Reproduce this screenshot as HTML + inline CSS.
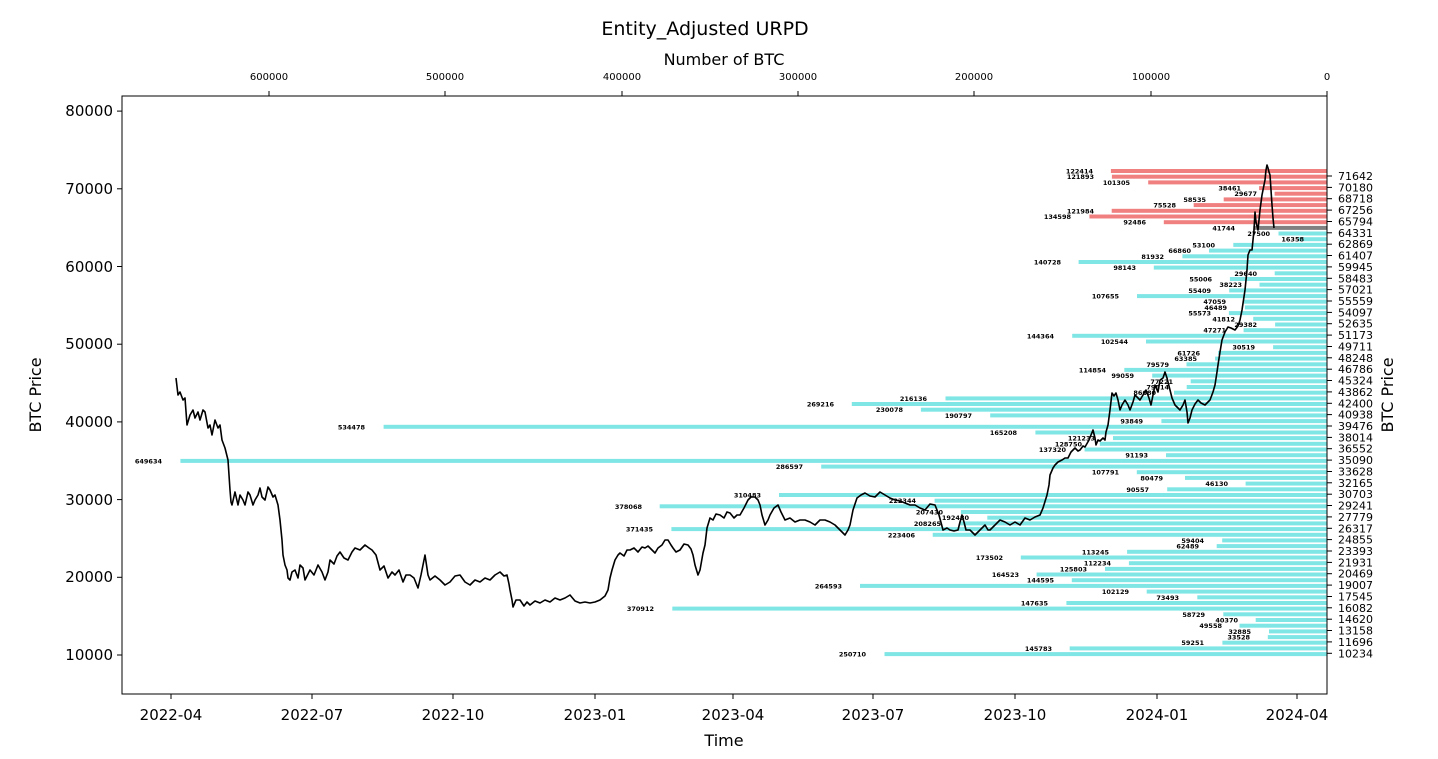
<!DOCTYPE html>
<html><head><meta charset="utf-8"><style>
html,body{margin:0;padding:0;background:#fff;}
svg{display:block;font-family:"DejaVu Sans","Liberation Sans",sans-serif;}
.l{font-size:6.5px;font-weight:bold;text-anchor:end;fill:#000;}
.rt{font-size:11px;}
.tk{font-size:15px;}
.tt{font-size:10px;text-anchor:middle;}
</style></head><body>
<svg width="1438" height="759" viewBox="0 0 1438 759" xmlns="http://www.w3.org/2000/svg">
<text x="705" y="35" font-size="19" text-anchor="middle">Entity_Adjusted URPD</text>
<text x="724" y="65" font-size="16" text-anchor="middle">Number of BTC</text>
<g fill="#80e5e5">
<rect x="1253.3" y="225.9" width="73.7" height="4" fill="#808080"/>
<g fill="#f08080">
<rect x="1110.9" y="169" width="216.1" height="4"/><rect x="1111.9" y="174.7" width="215.1" height="4"/><rect x="1148.2" y="180.4" width="178.8" height="4"/><rect x="1259.1" y="186.1" width="67.9" height="4"/><rect x="1274.6" y="191.7" width="52.4" height="4"/><rect x="1223.7" y="197.4" width="103.3" height="4"/><rect x="1193.7" y="203.1" width="133.3" height="4"/><rect x="1111.7" y="208.8" width="215.3" height="4"/><rect x="1089.4" y="214.5" width="237.6" height="4"/><rect x="1163.8" y="220.2" width="163.2" height="4"/>
</g>
<rect x="1278.5" y="231.5" width="48.5" height="4"/><rect x="1298.1" y="237.2" width="28.9" height="4"/><rect x="1233.3" y="242.9" width="93.7" height="4"/><rect x="1209" y="248.6" width="118" height="4"/><rect x="1182.4" y="254.3" width="144.6" height="4"/><rect x="1078.6" y="260" width="248.4" height="4"/><rect x="1153.8" y="265.6" width="173.2" height="4"/><rect x="1274.7" y="271.3" width="52.3" height="4"/><rect x="1229.9" y="277" width="97.1" height="4"/><rect x="1259.5" y="282.7" width="67.5" height="4"/><rect x="1229.2" y="288.4" width="97.8" height="4"/><rect x="1137" y="294.1" width="190" height="4"/><rect x="1243.9" y="299.7" width="83.1" height="4"/><rect x="1244.9" y="305.4" width="82.1" height="4"/><rect x="1228.9" y="311.1" width="98.1" height="4"/><rect x="1253.2" y="316.8" width="73.8" height="4"/><rect x="1275.1" y="322.5" width="51.9" height="4"/><rect x="1243.6" y="328.2" width="83.4" height="4"/><rect x="1072.2" y="333.8" width="254.8" height="4"/><rect x="1146" y="339.5" width="181" height="4"/><rect x="1273.1" y="345.2" width="53.9" height="4"/><rect x="1218.1" y="350.9" width="108.9" height="4"/><rect x="1215.1" y="356.6" width="111.9" height="4"/><rect x="1186.5" y="362.3" width="140.5" height="4"/><rect x="1124.3" y="367.9" width="202.7" height="4"/><rect x="1152.2" y="373.6" width="174.8" height="4"/><rect x="1190.7" y="379.3" width="136.3" height="4"/><rect x="1186.7" y="385" width="140.3" height="4"/><rect x="1174" y="390.7" width="153" height="4"/><rect x="945.5" y="396.4" width="381.5" height="4"/><rect x="851.8" y="402" width="475.2" height="4"/><rect x="920.9" y="407.7" width="406.1" height="4"/><rect x="990.2" y="413.4" width="336.8" height="4"/><rect x="1161.4" y="419.1" width="165.6" height="4"/><rect x="383.6" y="424.8" width="943.4" height="4"/><rect x="1035.4" y="430.5" width="291.6" height="4"/><rect x="1113" y="436.1" width="214" height="4"/><rect x="1099.8" y="441.8" width="227.2" height="4"/><rect x="1084.6" y="447.5" width="242.4" height="4"/><rect x="1166" y="453.2" width="161" height="4"/><rect x="180.4" y="458.9" width="1146.6" height="4"/><rect x="821.2" y="464.6" width="505.8" height="4"/><rect x="1136.8" y="470.2" width="190.2" height="4"/><rect x="1185" y="475.9" width="142" height="4"/><rect x="1245.6" y="481.6" width="81.4" height="4"/><rect x="1167.2" y="487.3" width="159.8" height="4"/><rect x="779" y="493" width="548" height="4"/><rect x="934.6" y="498.7" width="392.4" height="4"/><rect x="659.7" y="504.3" width="667.3" height="4"/><rect x="960.9" y="510" width="366.1" height="4"/><rect x="987.3" y="515.7" width="339.7" height="4"/><rect x="959.4" y="521.4" width="367.6" height="4"/><rect x="671.4" y="527.1" width="655.6" height="4"/><rect x="932.7" y="532.8" width="394.3" height="4"/><rect x="1222.2" y="538.4" width="104.8" height="4"/><rect x="1216.7" y="544.1" width="110.3" height="4"/><rect x="1127.1" y="549.8" width="199.9" height="4"/><rect x="1020.8" y="555.5" width="306.2" height="4"/><rect x="1128.9" y="561.2" width="198.1" height="4"/><rect x="1105" y="566.9" width="222" height="4"/><rect x="1036.6" y="572.5" width="290.4" height="4"/><rect x="1071.8" y="578.2" width="255.2" height="4"/><rect x="860" y="583.9" width="467" height="4"/><rect x="1146.7" y="589.6" width="180.3" height="4"/><rect x="1197.3" y="595.3" width="129.7" height="4"/><rect x="1066.4" y="601" width="260.6" height="4"/><rect x="672.3" y="606.6" width="654.7" height="4"/><rect x="1223.3" y="612.3" width="103.7" height="4"/><rect x="1255.7" y="618" width="71.3" height="4"/><rect x="1239.5" y="623.7" width="87.5" height="4"/><rect x="1269" y="629.4" width="58" height="4"/><rect x="1267.8" y="635.1" width="59.2" height="4"/><rect x="1222.4" y="640.7" width="104.6" height="4"/><rect x="1069.7" y="646.4" width="257.3" height="4"/><rect x="884.5" y="652.1" width="442.5" height="4"/>
</g>
<g class="l">
<text x="1093" y="173.5">122414</text><text x="1094" y="179.2">121893</text><text x="1130" y="184.9">101305</text><text x="1241" y="190.6">38461</text><text x="1257" y="196.2">29677</text><text x="1206" y="201.9">58535</text><text x="1176" y="207.6">75528</text><text x="1094" y="213.3">121984</text><text x="1071" y="219">134598</text><text x="1146" y="224.7">92486</text><text x="1235" y="230.4">41744</text><text x="1270" y="236">27500</text><text x="1304" y="241.7">16358</text><text x="1215" y="247.4">53100</text><text x="1191" y="253.1">66860</text><text x="1164" y="258.8">81932</text><text x="1061" y="264.5">140728</text><text x="1136" y="270.1">98143</text><text x="1257" y="275.8">29640</text><text x="1212" y="281.5">55006</text><text x="1242" y="287.2">38223</text><text x="1211" y="292.9">55409</text><text x="1119" y="298.6">107655</text><text x="1226" y="304.2">47059</text><text x="1227" y="309.9">46489</text><text x="1211" y="315.6">55573</text><text x="1235" y="321.3">41812</text><text x="1257" y="327">29382</text><text x="1226" y="332.7">47271</text><text x="1054" y="338.3">144364</text><text x="1128" y="344">102544</text><text x="1255" y="349.7">30519</text><text x="1200" y="355.4">61726</text><text x="1197" y="361.1">63385</text><text x="1169" y="366.8">79579</text><text x="1106" y="372.4">114854</text><text x="1134" y="378.1">99059</text><text x="1173" y="383.8">77221</text><text x="1169" y="389.5">79514</text><text x="1156" y="395.2">86680</text><text x="927" y="400.9">216136</text><text x="834" y="406.5">269216</text><text x="903" y="412.2">230078</text><text x="972" y="417.9">190797</text><text x="1143" y="423.6">93849</text><text x="365" y="429.3">534478</text><text x="1017" y="435">165208</text><text x="1095" y="440.6">121233</text><text x="1082" y="446.3">128750</text><text x="1066" y="452">137320</text><text x="1148" y="457.7">91193</text><text x="162" y="463.4">649634</text><text x="803" y="469.1">286597</text><text x="1119" y="474.7">107791</text><text x="1163" y="480.4">80479</text><text x="1228" y="486.1">46130</text><text x="1149" y="491.8">90557</text><text x="761" y="497.5">310483</text><text x="916" y="503.2">222344</text><text x="642" y="508.8">378068</text><text x="943" y="514.5">207430</text><text x="969" y="520.2">192480</text><text x="941" y="525.9">208265</text><text x="653" y="531.6">371435</text><text x="915" y="537.3">223406</text><text x="1204" y="542.9">59404</text><text x="1199" y="548.6">62489</text><text x="1109" y="554.3">113245</text><text x="1003" y="560">173502</text><text x="1111" y="565.7">112234</text><text x="1087" y="571.4">125803</text><text x="1019" y="577">164523</text><text x="1054" y="582.7">144595</text><text x="842" y="588.4">264593</text><text x="1129" y="594.1">102129</text><text x="1179" y="599.8">73493</text><text x="1048" y="605.5">147635</text><text x="654" y="611.1">370912</text><text x="1205" y="616.8">58729</text><text x="1238" y="622.5">40370</text><text x="1222" y="628.2">49558</text><text x="1251" y="633.9">32885</text><text x="1250" y="639.6">33528</text><text x="1204" y="645.2">59251</text><text x="1052" y="650.9">145783</text><text x="866" y="656.6">250710</text>
</g>
<polyline fill="none" stroke="#000" stroke-width="1.6" stroke-linejoin="round" points="176,378 178,395 180,392 183,400 185,398 187,425 190,415 193,410 195,418 198,412 200,420 203,410 205,412 208,428 210,425 212,435 215,420 218,428 220,425 222,440 225,448 228,460 229,475 230,490 231,502 232,505 235,492 238,505 240,495 243,500 245,505 248,492 250,495 253,505 255,500 258,495 260,488 262,497 265,500 268,487 270,490 273,497 275,495 278,505 280,520 282,540 283,555 285,565 287,570 288,578 290,580 292,572 295,570 298,578 300,565 303,568 305,580 308,574 310,570 314,575 318,565 322,572 325,580 328,572 330,560 334,564 337,556 340,552 344,558 348,560 352,552 355,548 360,550 365,545 369,548 372,550 376,555 380,570 384,566 388,578 392,572 395,575 399,570 403,582 406,575 410,575 414,578 418,588 421,575 425,555 428,575 430,580 435,576 440,580 445,585 450,582 455,576 460,575 465,582 470,585 475,580 480,582 485,578 490,580 495,575 500,572 504,576 507,575 509,584 510,590 512,600 513,607 516,600 520,600 524,606 527,602 530,605 535,601 540,603 545,600 550,602 555,598 560,600 565,598 570,595 575,601 580,603 585,602 590,603 595,602 600,600 605,596 608,590 610,578 612,570 615,560 618,555 620,553 624,556 627,550 630,550 634,548 638,552 642,547 645,548 648,546 652,550 655,553 658,548 662,545 665,540 668,540 671,545 673,548 676,552 680,550 684,544 688,545 691,549 693,555 695,565 698,575 700,570 703,553 705,545 707,528 710,518 713,520 716,514 720,515 724,518 727,512 730,513 734,518 737,515 740,515 744,508 748,500 751,497 755,497 758,500 760,505 762,515 765,525 768,520 770,515 774,508 778,505 781,512 785,520 790,518 795,522 800,520 805,520 810,522 815,525 820,520 825,520 830,522 835,525 840,530 845,535 848,530 850,525 853,510 857,498 861,495 865,493 870,496 875,497 880,492 885,495 890,498 895,500 900,501 905,503 910,505 915,505 920,508 925,510 930,504 935,505 939,515 943,530 947,528 950,530 954,531 958,530 960,522 962,515 964,522 966,530 970,530 975,535 980,530 985,525 988,530 990,530 995,525 1000,520 1005,522 1010,525 1015,522 1020,525 1025,518 1030,520 1035,517 1040,515 1043,508 1047,495 1049,485 1050,475 1053,468 1055,465 1058,462 1062,460 1065,458 1068,458 1071,452 1075,448 1078,451 1080,450 1083,446 1085,447 1089,440 1093,430 1095,438 1096,445 1098,440 1100,441 1103,438 1105,440 1106,432 1108,425 1110,410 1112,393 1114,396 1116,393 1118,400 1120,410 1122,405 1125,400 1128,405 1130,410 1133,402 1135,395 1138,398 1140,400 1143,395 1146,390 1149,398 1151,405 1153,395 1155,385 1158,392 1160,380 1163,378 1165,372 1167,378 1170,390 1172,398 1175,405 1178,408 1180,410 1183,405 1185,400 1187,412 1188,423 1190,418 1192,410 1195,404 1198,400 1201,403 1205,405 1208,402 1210,400 1213,392 1215,385 1217,372 1218,365 1220,352 1222,340 1225,332 1228,327 1231,328 1235,330 1238,326 1240,320 1242,310 1245,290 1247,270 1248,255 1250,250 1252,250 1253,240 1254,230 1255,212 1256,222 1258,230 1260,210 1262,195 1264,185 1265,180 1266,170 1267,165 1268,168 1269,172 1270,175 1271,190 1272,205 1273,218 1274,228"/>
<rect x="122" y="96" width="1205" height="598" fill="none" stroke="#000" stroke-width="1"/>
<g stroke="#000" stroke-width="1">
<line x1="122" y1="655" x2="117" y2="655"/><line x1="122" y1="577.3" x2="117" y2="577.3"/><line x1="122" y1="499.6" x2="117" y2="499.6"/><line x1="122" y1="421.9" x2="117" y2="421.9"/><line x1="122" y1="344.2" x2="117" y2="344.2"/><line x1="122" y1="266.5" x2="117" y2="266.5"/><line x1="122" y1="188.8" x2="117" y2="188.8"/><line x1="122" y1="111.1" x2="117" y2="111.1"/>
<line x1="171" y1="694" x2="171" y2="699"/><line x1="312" y1="694" x2="312" y2="699"/><line x1="453" y1="694" x2="453" y2="699"/><line x1="595" y1="694" x2="595" y2="699"/><line x1="733" y1="694" x2="733" y2="699"/><line x1="873" y1="694" x2="873" y2="699"/><line x1="1015" y1="694" x2="1015" y2="699"/><line x1="1157" y1="694" x2="1157" y2="699"/><line x1="1297" y1="694" x2="1297" y2="699"/>
<line x1="1327" y1="96" x2="1327" y2="91"/><line x1="1151" y1="96" x2="1151" y2="91"/><line x1="974" y1="96" x2="974" y2="91"/><line x1="798" y1="96" x2="798" y2="91"/><line x1="622" y1="96" x2="622" y2="91"/><line x1="445" y1="96" x2="445" y2="91"/><line x1="269" y1="96" x2="269" y2="91"/>
</g>
<g class="tt"><text x="1327" y="80">0</text><text x="1151" y="80">100000</text><text x="974" y="80">200000</text><text x="798" y="80">300000</text><text x="622" y="80">400000</text><text x="445" y="80">500000</text><text x="269" y="80">600000</text></g>
<g class="tk" text-anchor="end"><text x="113" y="660">10000</text><text x="113" y="582">20000</text><text x="113" y="505">30000</text><text x="113" y="427">40000</text><text x="113" y="349">50000</text><text x="113" y="272">60000</text><text x="113" y="194">70000</text><text x="113" y="116">80000</text></g>
<g class="tk" text-anchor="middle"><text x="171" y="720">2022-04</text><text x="312" y="720">2022-07</text><text x="453" y="720">2022-10</text><text x="595" y="720">2023-01</text><text x="733" y="720">2023-04</text><text x="873" y="720">2023-07</text><text x="1015" y="720">2023-10</text><text x="1157" y="720">2024-01</text><text x="1297" y="720">2024-04</text></g>
<text x="724" y="746" font-size="16" text-anchor="middle">Time</text>
<text transform="translate(41,395) rotate(-90)" font-size="16" text-anchor="middle">BTC Price</text>
<text transform="translate(1393,395) rotate(-90)" font-size="16" text-anchor="middle">BTC Price</text>
<g stroke="#000"><line x1="1327" y1="176.0" x2="1332" y2="176.0"/><line x1="1327" y1="187.4" x2="1332" y2="187.4"/><line x1="1327" y1="198.7" x2="1332" y2="198.7"/><line x1="1327" y1="210.1" x2="1332" y2="210.1"/><line x1="1327" y1="221.5" x2="1332" y2="221.5"/><line x1="1327" y1="232.8" x2="1332" y2="232.8"/><line x1="1327" y1="244.2" x2="1332" y2="244.2"/><line x1="1327" y1="255.5" x2="1332" y2="255.5"/><line x1="1327" y1="266.9" x2="1332" y2="266.9"/><line x1="1327" y1="278.3" x2="1332" y2="278.3"/><line x1="1327" y1="289.6" x2="1332" y2="289.6"/><line x1="1327" y1="301.0" x2="1332" y2="301.0"/><line x1="1327" y1="312.4" x2="1332" y2="312.4"/><line x1="1327" y1="323.7" x2="1332" y2="323.7"/><line x1="1327" y1="335.1" x2="1332" y2="335.1"/><line x1="1327" y1="346.5" x2="1332" y2="346.5"/><line x1="1327" y1="357.8" x2="1332" y2="357.8"/><line x1="1327" y1="369.2" x2="1332" y2="369.2"/><line x1="1327" y1="380.5" x2="1332" y2="380.5"/><line x1="1327" y1="391.9" x2="1332" y2="391.9"/><line x1="1327" y1="403.3" x2="1332" y2="403.3"/><line x1="1327" y1="414.6" x2="1332" y2="414.6"/><line x1="1327" y1="426.0" x2="1332" y2="426.0"/><line x1="1327" y1="437.4" x2="1332" y2="437.4"/><line x1="1327" y1="448.7" x2="1332" y2="448.7"/><line x1="1327" y1="460.1" x2="1332" y2="460.1"/><line x1="1327" y1="471.5" x2="1332" y2="471.5"/><line x1="1327" y1="482.8" x2="1332" y2="482.8"/><line x1="1327" y1="494.2" x2="1332" y2="494.2"/><line x1="1327" y1="505.5" x2="1332" y2="505.5"/><line x1="1327" y1="516.9" x2="1332" y2="516.9"/><line x1="1327" y1="528.3" x2="1332" y2="528.3"/><line x1="1327" y1="539.6" x2="1332" y2="539.6"/><line x1="1327" y1="551.0" x2="1332" y2="551.0"/><line x1="1327" y1="562.4" x2="1332" y2="562.4"/><line x1="1327" y1="573.7" x2="1332" y2="573.7"/><line x1="1327" y1="585.1" x2="1332" y2="585.1"/><line x1="1327" y1="596.5" x2="1332" y2="596.5"/><line x1="1327" y1="607.8" x2="1332" y2="607.8"/><line x1="1327" y1="619.2" x2="1332" y2="619.2"/><line x1="1327" y1="630.5" x2="1332" y2="630.5"/><line x1="1327" y1="641.9" x2="1332" y2="641.9"/><line x1="1327" y1="653.3" x2="1332" y2="653.3"/></g>
<g class="rt"><text x="1338" y="180">71642</text><text x="1338" y="191.4">70180</text><text x="1338" y="202.7">68718</text><text x="1338" y="214.1">67256</text><text x="1338" y="225.5">65794</text><text x="1338" y="236.8">64331</text><text x="1338" y="248.2">62869</text><text x="1338" y="259.5">61407</text><text x="1338" y="270.9">59945</text><text x="1338" y="282.3">58483</text><text x="1338" y="293.6">57021</text><text x="1338" y="305">55559</text><text x="1338" y="316.4">54097</text><text x="1338" y="327.7">52635</text><text x="1338" y="339.1">51173</text><text x="1338" y="350.5">49711</text><text x="1338" y="361.8">48248</text><text x="1338" y="373.2">46786</text><text x="1338" y="384.5">45324</text><text x="1338" y="395.9">43862</text><text x="1338" y="407.3">42400</text><text x="1338" y="418.6">40938</text><text x="1338" y="430">39476</text><text x="1338" y="441.4">38014</text><text x="1338" y="452.7">36552</text><text x="1338" y="464.1">35090</text><text x="1338" y="475.5">33628</text><text x="1338" y="486.8">32165</text><text x="1338" y="498.2">30703</text><text x="1338" y="509.5">29241</text><text x="1338" y="520.9">27779</text><text x="1338" y="532.3">26317</text><text x="1338" y="543.6">24855</text><text x="1338" y="555">23393</text><text x="1338" y="566.4">21931</text><text x="1338" y="577.7">20469</text><text x="1338" y="589.1">19007</text><text x="1338" y="600.5">17545</text><text x="1338" y="611.8">16082</text><text x="1338" y="623.2">14620</text><text x="1338" y="634.5">13158</text><text x="1338" y="645.9">11696</text><text x="1338" y="657.3">10234</text></g>
</svg>
</body></html>
